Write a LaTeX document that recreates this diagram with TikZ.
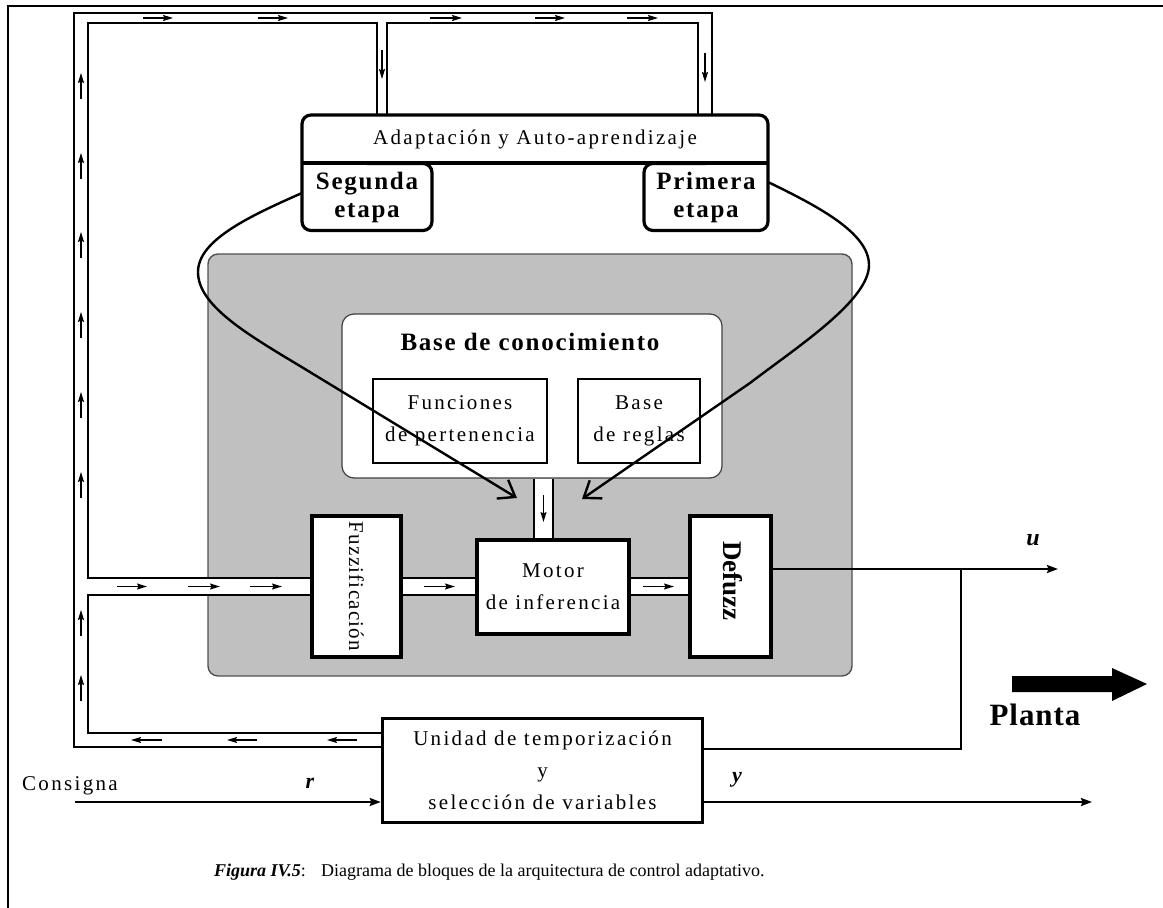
\documentclass[tikz,border=0pt]{standalone}
\usepackage{fontspec}
\setmainfont{Liberation Serif}
\newfontfamily\regsp[LetterSpace=11]{Liberation Serif}
\newfontfamily\boldsp[LetterSpace=7]{Liberation Serif}
\newcommand\lsreg{\regsp\fontsize{21}{32}\selectfont}
\newcommand\lsbold{\boldsp\bfseries\fontsize{25}{28}\selectfont}
\usetikzlibrary{arrows.meta}
\definecolor{panel}{RGB}{192,192,192}
\definecolor{edge}{RGB}{80,80,80}

\begin{document}
\begin{tikzpicture}[x=1pt,y=-1pt,
  blk/.style={draw, line width=3.5pt, fill=white, inner sep=0pt},
  thinbox/.style={draw, line width=2pt, fill=white, inner sep=0pt},
  plain/.style={inner sep=0pt, outer sep=0pt},
  bus/.style={line width=1.3pt},
  flow/.style={line width=1.3pt, -{Stealth[length=10pt,width=6pt,inset=1.5pt]}},
  fb/.style={line width=2.4pt, -{Straight Barb[length=15pt,width=22pt]}},
  sig/.style={line width=2pt, -{Stealth[length=11pt,width=8pt,inset=1.5pt]}},
  wire/.style={line width=2pt},
  thickline/.style={line width=3.2pt},
  lbl/.style={inner sep=0pt, font=\bfseries\itshape\fontsize{22}{22}\selectfont}]
\useasboundingbox (0,0) rectangle (1163,908);

% page frame
\draw[line width=2.5pt] (8,908) -- (8,6) -- (1163,6);

% controller panel
\node[draw=edge, line width=1.4pt, fill=panel, rounded corners=10pt,
      minimum width=644pt, minimum height=422pt, inner sep=0pt] (ctrl) at (530,465) {};

% knowledge base
\node[draw=black!75, line width=1.2pt, fill=white, rounded corners=12pt,
      minimum width=380pt, minimum height=164pt, inner sep=0pt] (base) at (532,396) {};
\node[font=\lsbold, inner sep=0pt] (baseT) at (530,341.5) {Base de conocimiento};
\node[thinbox, minimum width=174pt, minimum height=84pt, align=center, font=\lsreg] (funcs) at (460,421) {Funciones\\de pertenencia};
\node[thinbox, minimum width=122pt, minimum height=84pt, align=center, font=\lsreg] (reglas) at (639,421) {Base\\de reglas};

% fuzzy blocks
\node[blk, minimum width=89pt, minimum height=141pt] (fuzz) at (356.5,586.5) {};
\node[rotate=-90, inner sep=0pt, font=\lsreg\addfontfeatures{LetterSpace=6}] (fuzzT) at (fuzz.center) {Fuzzificación};
\node[blk, minimum width=152pt, minimum height=94pt, align=center, font=\lsreg] (motor) at (553,587) {Motor\\de inferencia};
\node[blk, minimum width=81pt, minimum height=141pt] (defuzz) at (730.5,586.5) {};
\node[rotate=-90, inner sep=0pt, font=\bfseries\fontsize{27}{27}\selectfont] (defuzzT) at (733,581) {Defuzz};

% timing / variable selection unit
\node[blk, minimum width=320pt, minimum height=104pt, align=center, font=\lsreg] (unidad) at (542.5,770.5) {Unidad de temporización\\y\\selección de variables};

% adaptation block
\node[plain, minimum width=466pt, minimum height=48pt, font=\lsreg] (adapt) at (535,139) {Adaptación y Auto-aprendizaje};
\node[plain, minimum width=130pt, minimum height=67pt, align=center, font=\lsbold] (seg) at (367,197) {Segunda\\etapa};
\node[plain, minimum width=124pt, minimum height=67pt, align=center, font=\lsbold] (prim) at (706,197) {Primera\\etapa};
\draw[thickline, rounded corners=9pt] (seg.north) -- (seg.north east) -- (seg.south east)
  -- (seg.south west) -- (adapt.north west) -- (adapt.north east) -- (prim.south east)
  -- (prim.south west) -- (prim.north west) -- (prim.north);
\draw[thickline] (adapt.south west) -- (adapt.south east);

% reference levels of the double-line buses
\coordinate (chT) at (0,578);
\coordinate (chB) at (0,595);
\coordinate (busBi) at (0,733);
\coordinate (busBo) at (0,747);
\coordinate (dA) at (377,0);
\coordinate (dB) at (387,0);
\coordinate (dC) at (698,0);
\coordinate (dD) at (712,0);
\coordinate (vL) at (534,0);
\coordinate (vR) at (553,0);

% white channels
\fill[white] (88,578) rectangle (fuzz.west |- chB);
\fill[white] (fuzz.east |- chT) rectangle (motor.west |- chB);
\fill[white] (motor.east |- chT) rectangle (defuzz.west |- chB);
\fill[white] (vL |- base.south) rectangle (vR |- motor.north);
\draw[bus] (fuzz.east |- chT) -- (motor.west |- chT) (fuzz.east |- chB) -- (motor.west |- chB);
\draw[bus] (motor.east |- chT) -- (defuzz.west |- chT) (motor.east |- chB) -- (defuzz.west |- chB);
\draw[bus] (vL |- base.south) -- (vL |- motor.north) (vR |- base.south) -- (vR |- motor.north);

% feedback bus around the controller
\draw[bus] (unidad.west |- busBo) -- (74,747) -- (74,13) -- (712,13) -- (dD |- adapt.north);
\draw[bus] (dA |- adapt.north) -- (377,23) -- (88,23) -- (88,578) -- (fuzz.west |- chT);
\draw[bus] (dB |- adapt.north) -- (387,23) -- (698,23) -- (dC |- adapt.north);
\draw[bus] (fuzz.west |- chB) -- (88,595) -- (88,733) -- (unidad.west |- busBi);

% flow arrows inside the buses
\foreach \a/\b in {143/173, 258/288, 430/462, 535/565, 627/658}
  \draw[flow] (\a,18) -- (\b,18);
\draw[flow] (382,50) -- (382,79);
\draw[flow] (705,53) -- (705,82);
\foreach \t in {73, 153, 232, 312, 392, 472, 610, 675}
  \draw[flow] (81,\t+26) -- (81,\t);
\foreach \a/\b in {117/147, 188/220, 250/282, 424/455, 643/674}
  \draw[flow] (\a,586.5) -- (\b,586.5);
\foreach \a/\b in {162/131, 257/227, 357/327}
  \draw[flow] (\a,740) -- (\b,740);
\draw[flow] (543.5,495) -- (543.5,522);

% adaptation paths into the inference engine
\coordinate (tipL) at (517,498);
\coordinate (tipR) at (582,499);
\draw[fb] ([shift={(0,-4)}]seg.west) .. controls (250,216) and (198,240) .. (198,272)
  .. controls (198,305) and (245,333) .. (300,366) -- (tipL);
\draw[fb] ([shift={(0,-15)}]prim.east) .. controls (815,205) and (869,232) .. (869,265)
  .. controls (869,300) and (800,345) .. (750,383) -- (tipR);

% signals
\coordinate (uY) at (0,569);
\coordinate (uEnd) at (1058,569);
\coordinate (jn) at (961,569);
\coordinate (fbY) at (0,749);
\coordinate (cIn) at (75,802);
\coordinate (yEnd) at (1092,802);
\draw[sig] (defuzz.east |- uY) -- (uEnd);
\draw[wire] (jn) -- (jn |- fbY) -- (unidad.east |- fbY);
\draw[sig] (cIn) -- (unidad.west |- cIn);
\draw[sig] (unidad.east |- cIn) -- (yEnd);

% labels
\node[lbl, font=\bfseries\itshape\fontsize{24}{24}\selectfont] (ulab) at (1033,540) {u};
\node[lbl] (rlab) at (310,783) {r};
\node[lbl] (ylab) at (737,780) {y};
\node[font=\lsreg, anchor=west, inner sep=0pt] (consigna) at (22,786) {Consigna};

% plant
\fill (1012,676) -- (1112,676) -- (1112,668) -- (1147,684) -- (1112,701) -- (1112,692) -- (1012,692) -- cycle;
\node[inner sep=0pt, font=\bfseries\fontsize{31}{31}\selectfont\addfontfeatures{LetterSpace=3}] (planta) at (1035,714.5) {Planta};

% caption
\node[anchor=east, inner sep=0pt, font=\fontsize{18}{18}\selectfont] (capA) at (306,872) {\textbf{\textit{Figura IV.5}}:};
\node[anchor=west, inner sep=0pt, font=\fontsize{18}{18}\selectfont] (capB) at (321,872) {Diagrama de bloques de la arquitectura de control adaptativo.};
\end{tikzpicture}
\end{document}
